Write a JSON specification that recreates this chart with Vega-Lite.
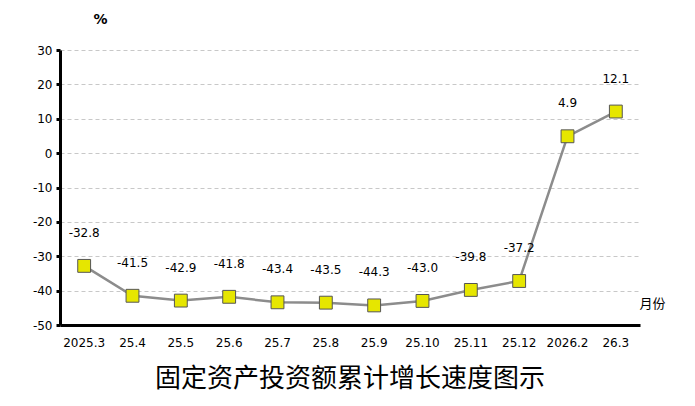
{
  "$schema": "https://vega.github.io/schema/vega-lite/v6.json",
  "autosize": "none",
  "width": 580,
  "height": 275,
  "padding": {"left": 60, "top": 50, "right": 55, "bottom": 81},
  "background": "white",
  "title": {
    "text": "固定资产投资额累计增长速度图示",
    "orient": "bottom",
    "font": "Noto Sans CJK SC",
    "fontSize": 26,
    "fontWeight": "normal",
    "color": "#000000",
    "offset": 18,
    "anchor": "middle"
  },
  "config": {
    "view": {"stroke": null},
    "font": "DejaVu Sans"
  },
  "data": {
    "values": [
      {"month": "2025.3", "value": -32.8, "label": "-32.8"},
      {"month": "25.4", "value": -41.5, "label": "-41.5"},
      {"month": "25.5", "value": -42.9, "label": "-42.9"},
      {"month": "25.6", "value": -41.8, "label": "-41.8"},
      {"month": "25.7", "value": -43.4, "label": "-43.4"},
      {"month": "25.8", "value": -43.5, "label": "-43.5"},
      {"month": "25.9", "value": -44.3, "label": "-44.3"},
      {"month": "25.10", "value": -43.0, "label": "-43.0"},
      {"month": "25.11", "value": -39.8, "label": "-39.8"},
      {"month": "25.12", "value": -37.2, "label": "-37.2"},
      {"month": "2026.2", "value": 4.9, "label": "4.9"},
      {"month": "26.3", "value": 12.1, "label": "12.1"}
    ]
  },
  "encoding": {
    "x": {
      "field": "month",
      "type": "ordinal",
      "sort": null,
      "scale": {"type": "band", "paddingInner": 0, "paddingOuter": 0},
      "axis": {
        "title": "月份",
        "titleFont": "Noto Sans CJK SC",
        "titleFontSize": 13,
        "titleFontWeight": "normal",
        "titleColor": "#000000",
        "titleX": 592,
        "titleY": -28,
        "titleAlign": "center",
        "labelAngle": 0,
        "labelFontSize": 12,
        "labelColor": "#000000",
        "labelPadding": 12,
        "ticks": false,
        "domainColor": "#000000",
        "domainWidth": 3,
        "grid": false
      }
    },
    "y": {
      "field": "value",
      "type": "quantitative",
      "scale": {"domain": [-50, 30], "nice": false, "zero": false},
      "axis": {
        "title": "%",
        "titleAngle": 0,
        "titleFontSize": 14,
        "titleFontWeight": "bold",
        "titleColor": "#000000",
        "titleX": 40,
        "titleY": -24,
        "titleAlign": "center",
        "values": [-50, -40, -30, -20, -10, 0, 10, 20, 30],
        "labelExpr": "datum.value + ''",
        "labelFontSize": 12,
        "labelColor": "#000000",
        "labelPadding": 4,
        "tickSize": 4,
        "tickWidth": 3,
        "tickColor": "#000000",
        "domainColor": "#000000",
        "domainWidth": 3,
        "grid": true,
        "gridColor": "#c8c8c8",
        "gridDash": [4, 3],
        "gridWidth": 1
      }
    }
  },
  "layer": [
    {
      "mark": {"type": "line", "color": "#8c8c8c", "strokeWidth": 2.5}
    },
    {
      "mark": {"type": "point", "shape": "square", "size": 165, "filled": true, "fill": "#e6e600", "stroke": "#555555", "strokeWidth": 1, "opacity": 1}
    },
    {
      "mark": {"type": "text", "dy": -33, "fontSize": 12, "color": "#000000", "font": "DejaVu Sans"},
      "encoding": {"text": {"field": "label", "type": "nominal"}}
    }
  ]
}
